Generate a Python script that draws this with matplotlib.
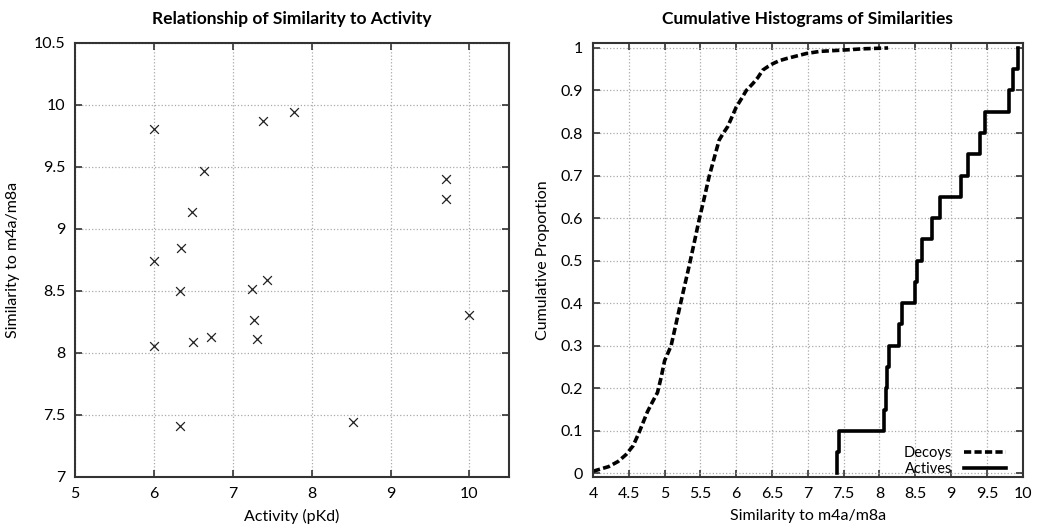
import numpy as np
import matplotlib
matplotlib.use("Agg")
import matplotlib.pyplot as plt

plt.rcParams['font.family'] = ['Lato', 'DejaVu Sans']

# scatter: activity vs similarity for the 20 actives
activity = [6.00, 7.38, 7.77, 6.63, 9.70, 9.70, 6.48, 6.35, 6.00, 6.33,
            7.24, 7.44, 7.27, 10.00, 6.00, 6.50, 6.73, 7.31, 6.33, 8.52]
similarity = [9.81, 9.87, 9.94, 9.47, 9.40, 9.24, 9.14, 8.85, 8.74, 8.50,
              8.52, 8.59, 8.27, 8.31, 8.06, 8.09, 8.13, 8.11, 7.41, 7.44]

# decoy cumulative curve
decoy_x = [4.00, 4.10, 4.22, 4.35, 4.46, 4.56, 4.64, 4.70, 4.76, 4.83, 4.90,
           4.95, 5.00, 5.09, 5.17, 5.25, 5.34, 5.41, 5.48, 5.55, 5.62, 5.69,
           5.76, 5.82, 5.88, 5.94, 6.00, 6.07, 6.14, 6.23, 6.30, 6.37, 6.44,
           6.51, 6.60, 6.70, 6.84, 6.98, 7.17, 7.49, 7.77, 8.12]
decoy_y = [0.005, 0.010, 0.016, 0.028, 0.044, 0.065, 0.095, 0.120, 0.145,
           0.168, 0.190, 0.225, 0.265, 0.300, 0.360, 0.420, 0.486, 0.540,
           0.595, 0.645, 0.697, 0.740, 0.783, 0.800, 0.815, 0.838, 0.861,
           0.880, 0.900, 0.916, 0.930, 0.948, 0.956, 0.963, 0.970, 0.975,
           0.981, 0.987, 0.992, 0.995, 0.998, 1.000]

act_sorted = np.sort(similarity)
act_x = np.concatenate([[act_sorted[0]], act_sorted])
act_y = np.concatenate([[0.0], np.arange(1, len(act_sorted) + 1) / len(act_sorted)])

fig = plt.figure(figsize=(10.5, 5.28), dpi=100)
ax1 = fig.add_axes([0.0714, 0.0966, 0.4133, 0.822])
ax2 = fig.add_axes([0.5648, 0.0966, 0.4092, 0.822])

frame_col = '#333333'
for ax in (ax1, ax2):
    for s in ax.spines.values():
        s.set_linewidth(1.5)
        s.set_color(frame_col)
    ax.tick_params(direction='in', length=5, width=1.2, top=True, right=True,
                   labelsize=11.5, color=frame_col, pad=7)
    ax.grid(True, linestyle=':', color='#aaaaaa', linewidth=0.9)
    ax.set_axisbelow(True)

# 散点图
ax1.scatter(activity, similarity, marker='x', color='#222222', s=40, linewidths=0.9)
ax1.set_xlim(5, 10.5)
ax1.set_ylim(7, 10.5)
ax1.set_xticks([5, 6, 7, 8, 9, 10])
ax1.set_yticks([7, 7.5, 8, 8.5, 9, 9.5, 10, 10.5])
ax1.set_yticklabels(['7', '7.5', '8', '8.5', '9', '9.5', '10', '10.5'])
ax1.set_xlabel('Activity (pKd)', fontsize=11.5, labelpad=6)
ax1.set_ylabel('Similarity to m4a/m8a', fontsize=11.5, labelpad=10)
ax1.set_title('Relationship of Similarity to Activity', fontsize=12.5,
              fontweight='bold', pad=14)

# 累积直方图
ax2.plot(decoy_x, decoy_y, color='black', lw=2.6, dashes=(2.0, 0.9), label='Decoys')
ax2.plot(act_x, act_y, color='black', lw=2.6, drawstyle='steps-post', label='Actives')
ax2.set_xlim(4, 10)
ax2.set_ylim(-0.0085, 1.0117)
ax2.set_xticks(np.arange(4, 10.01, 0.5))
ax2.set_xticklabels(['4', '4.5', '5', '5.5', '6', '6.5', '7', '7.5', '8', '8.5',
                     '9', '9.5', '10'])
ax2.set_yticks(np.arange(0, 1.01, 0.1))
ax2.set_yticklabels(['0', '0.1', '0.2', '0.3', '0.4', '0.5', '0.6', '0.7',
                     '0.8', '0.9', '1'])
ax2.set_xlabel('Similarity to m4a/m8a', fontsize=11.5, labelpad=6)
ax2.set_ylabel('Cumulative Proportion', fontsize=11.5, labelpad=8)
ax2.set_title('Cumulative Histograms of Similarities', fontsize=12.5,
              fontweight='bold', pad=14)
leg = ax2.legend(loc='lower right', bbox_to_anchor=(0.975, -0.012), frameon=False,
                 markerfirst=False, fontsize=10.5, handlelength=2.9,
                 handletextpad=0.8, labelspacing=0.15, borderaxespad=0.0)

fig.savefig('out.png', dpi=100)
